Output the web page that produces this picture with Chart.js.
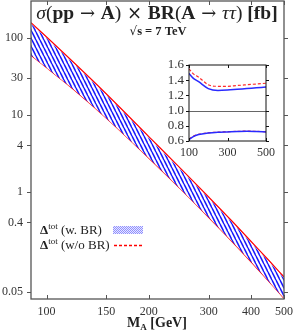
<!DOCTYPE html>
<html>
<head>
<meta charset="utf-8">
<style>
  body { margin: 0; background: #fff; }
  #wrap { position: relative; width: 295px; height: 332px; }
  #main { position: absolute; left: 0; top: 0; }
  #inset { position: absolute; left: 150px; top: 55px; }
</style>
</head>
<body>
<div id="wrap">
  <canvas id="main" width="295" height="332"></canvas>
  <canvas id="inset" width="130" height="105"></canvas>
</div>
<script src="https://cdn.jsdelivr.net/npm/chart.js"></script>
<script>
  // main band: sigma x BR [fb] vs M_A [GeV]
  var masses = [90, 100, 120, 150, 200, 250, 300, 350, 400, 450, 500];
  var central = [99, 66, 32.4, 13.1, 3.88, 1.47, 0.647, 0.318, 0.169, 0.096, 0.0575];
  var upperBR = [150.5, 98.3, 46.3, 17.9, 5.0, 1.86, 0.822, 0.407, 0.218, 0.125, 0.0753];
  var upperNoBR = [156.4, 102.3, 48.0, 18.6, 5.2, 1.94, 0.854, 0.423, 0.226, 0.130, 0.0782];
  var lowerBand = [59.4, 40.9, 21.4, 9.04, 2.74, 1.05, 0.466, 0.231, 0.123, 0.0696, 0.0414];
  var xTicks = [100, 150, 200, 300, 400, 500];
  var yTicks = [100, 30, 10, 4, 1, 0.4, 0.05];

  // inset: band edges relative to central value
  var insetMasses = [100, 120, 150, 200, 250, 300, 350, 400, 450, 500];
  var ratioUpBR = [1.49, 1.43, 1.38, 1.29, 1.265, 1.27, 1.28, 1.29, 1.30, 1.31];
  var ratioUpNoBR = [1.55, 1.49, 1.44, 1.34, 1.32, 1.32, 1.33, 1.34, 1.35, 1.36];
  var ratioLowBR = [0.62, 0.655, 0.685, 0.705, 0.715, 0.72, 0.725, 0.728, 0.725, 0.72];
  var ratioLowNoBR = [0.625, 0.66, 0.688, 0.708, 0.717, 0.722, 0.727, 0.73, 0.727, 0.722];
  var insetXTicks = [100, 300, 500];
  var insetYTicks = [0.6, 0.8, 1.0, 1.2, 1.4, 1.6];

  Chart.defaults.font.family = '"Liberation Serif", serif';
  Chart.defaults.color = '#333';

  function pts(xs, ys) {
    return xs.map(function (x, i) { return { x: x, y: ys[i] }; });
  }

  // no automatic label padding, the plot box is fixed by layout.padding
  function noPad(s) {
    s.paddingTop = 0; s.paddingBottom = 0; s.paddingLeft = 0; s.paddingRight = 0;
  }

  var mainCtx = document.getElementById('main').getContext('2d');

  function makeHatch() {
    var c = document.createElement('canvas');
    c.width = 4; c.height = 8;
    var g = c.getContext('2d');
    g.fillStyle = '#ffffff';
    g.fillRect(0, 0, 4, 8);
    g.strokeStyle = '#1a1aff';
    g.lineWidth = 1.5;
    [-4, 0, 4].forEach(function (o) {
      g.beginPath(); g.moveTo(o, 0); g.lineTo(o + 4, 8); g.stroke();
    });
    return mainCtx.createPattern(c, 'repeat');
  }

  function makeDots() {
    var c = document.createElement('canvas');
    c.width = 2; c.height = 2;
    var g = c.getContext('2d');
    g.fillStyle = '#e8e8ff';
    g.fillRect(0, 0, 2, 2);
    g.fillStyle = '#9090ff';
    g.fillRect(0, 0, 1, 1);
    g.fillRect(1, 1, 1, 1);
    return mainCtx.createPattern(c, 'repeat');
  }

  // draws a list of [text, font, dy] pieces one after another
  function drawRich(ctx, parts, x, y, align) {
    var w = 0;
    parts.forEach(function (p) { ctx.font = p[1]; w += ctx.measureText(p[0]).width; });
    var cx = align === 'center' ? x - w / 2 : x;
    ctx.textAlign = 'left';
    ctx.textBaseline = 'alphabetic';
    parts.forEach(function (p) {
      ctx.font = p[1];
      ctx.fillText(p[0], cx, y + (p[2] || 0));
      cx += ctx.measureText(p[0]).width;
    });
  }

  var F = '"Liberation Serif", serif';
  var D = '"DejaVu Serif", serif';

  var mainDeco = {
    id: 'mainDeco',
    afterDraw: function (chart) {
      var ctx = chart.ctx, a = chart.chartArea, xs = chart.scales.x, ys = chart.scales.y;
      ctx.save();
      ctx.strokeStyle = '#555';
      ctx.lineWidth = 1.3;
      ctx.strokeRect(a.left, a.top, a.right - a.left, a.bottom - a.top);
      ctx.lineWidth = 1;
      ctx.beginPath();
      yTicks.forEach(function (v) {
        var p = Math.round(ys.getPixelForValue(v)) + 0.5;
        ctx.moveTo(a.left - 4, p); ctx.lineTo(a.left, p);
        ctx.moveTo(a.right, p); ctx.lineTo(a.right + 4, p);
      });
      xTicks.forEach(function (v) {
        var p = Math.round(xs.getPixelForValue(v)) + 0.5;
        ctx.moveTo(p, a.bottom); ctx.lineTo(p, a.bottom - 4);
        ctx.moveTo(p, a.top); ctx.lineTo(p, a.top + 4);
      });
      ctx.stroke();

      ctx.fillStyle = '#222';
      var n = '19.5px ' + F, b = 'bold 19.5px ' + F, it = 'italic 19.5px ' + F, ar = '18px ' + D;
      drawRich(ctx, [['σ', it], ['(', n], ['pp', b], [' → ', ar], ['A', b], [')', n], [' × ', ar],
        ['BR', b], ['(', n], ['A', b], [' → ', ar], ['ττ', it], [')', n], [' [', b], ['fb', b], [']', b]],
        157, 19, 'center');
      drawRich(ctx, [['√', '12px ' + D], ['s = 7 TeV', 'bold 12.5px ' + F]], 158, 35, 'center');

      // legend
      var ln = '13px ' + F, lb = 'bold 13px ' + F, ls = '9px ' + F;
      drawRich(ctx, [['Δ', lb], ['tot', ls, -5], [' (w. BR)', ln]], 40, 234);
      drawRich(ctx, [['Δ', lb], ['tot', ls, -5], [' (w/o BR)', ln]], 40, 249);
      ctx.fillStyle = makeDots();
      ctx.fillRect(113, 226, 30, 8);
      ctx.strokeStyle = '#ff0000';
      ctx.lineWidth = 1.3;
      ctx.setLineDash([3, 2]);
      ctx.beginPath(); ctx.moveTo(114, 245.5); ctx.lineTo(143, 245.5); ctx.stroke();
      ctx.setLineDash([]);

      // x axis title
      ctx.fillStyle = '#222';
      drawRich(ctx, [['M', 'bold 14px ' + F], ['A', 'bold 9px ' + F, 3], [' [GeV]', 'bold 14px ' + F]],
        157, 327, 'center');
      ctx.restore();
    }
  };

  var hatch = makeHatch();

  new Chart(mainCtx, {
    type: 'line',
    data: {
      datasets: [
        { data: pts(masses, upperBR), borderWidth: 0, pointRadius: 0, fill: 1, backgroundColor: hatch, cubicInterpolationMode: 'monotone' },
        { data: pts(masses, lowerBand), borderColor: '#ff0000', borderWidth: 1.2, pointRadius: 0, fill: false, cubicInterpolationMode: 'monotone' },
        { data: pts(masses, upperNoBR), borderColor: '#ff0000', borderWidth: 1.2, pointRadius: 0, fill: false, cubicInterpolationMode: 'monotone' },
        { data: pts(masses, central), borderColor: '#333', borderWidth: 0.8, pointRadius: 0, fill: false, cubicInterpolationMode: 'monotone' }
      ]
    },
    options: {
      responsive: false,
      animation: false,
      events: [],
      layout: { autoPadding: false, padding: { top: 1, right: 11, left: 0, bottom: 0 } },
      plugins: { legend: { display: false }, tooltip: { enabled: false } },
      scales: {
        x: {
          type: 'logarithmic', min: 90, max: 500,
          grid: { display: false, drawTicks: false }, border: { display: false },
          afterBuildTicks: function (s) { s.ticks = xTicks.map(function (v) { return { value: v }; }); },
          afterFit: function (s) { s.height = 33; noPad(s); },
          ticks: { autoSkip: false, maxRotation: 0, padding: 6, font: { size: 12 }, color: '#333',
            callback: function (v) { return String(v); } }
        },
        y: {
          type: 'logarithmic', min: 0.0405, max: 300,
          grid: { display: false, drawTicks: false }, border: { display: false },
          afterBuildTicks: function (s) { s.ticks = yTicks.map(function (v) { return { value: v }; }); },
          afterFit: function (s) { s.width = 31; noPad(s); },
          ticks: { autoSkip: false, padding: 8, font: { size: 12 }, color: '#333',
            callback: function (v) { return String(v); } }
        }
      }
    },
    plugins: [mainDeco]
  });

  var insetDeco = {
    id: 'insetDeco',
    afterDraw: function (chart) {
      var ctx = chart.ctx, a = chart.chartArea, xs = chart.scales.x, ys = chart.scales.y;
      ctx.save();
      ctx.strokeStyle = '#666';
      ctx.lineWidth = 1;
      var p1 = Math.round(ys.getPixelForValue(1.0)) + 0.5;
      ctx.beginPath(); ctx.moveTo(a.left, p1); ctx.lineTo(a.right, p1); ctx.stroke();
      ctx.strokeStyle = '#111';
      ctx.strokeRect(a.left, a.top, a.right - a.left, a.bottom - a.top);
      ctx.beginPath();
      insetYTicks.forEach(function (v) {
        var p = Math.round(ys.getPixelForValue(v)) + 0.5;
        ctx.moveTo(a.left - 3, p); ctx.lineTo(a.left, p);
        ctx.moveTo(a.right, p); ctx.lineTo(a.right + 3, p);
      });
      insetXTicks.forEach(function (v) {
        var p = Math.round(xs.getPixelForValue(v)) + 0.5;
        ctx.moveTo(p, a.bottom); ctx.lineTo(p, a.bottom - 3);
        ctx.moveTo(p, a.top); ctx.lineTo(p, a.top + 3);
      });
      ctx.stroke();
      ctx.restore();
    }
  };

  new Chart(document.getElementById('inset'), {
    type: 'line',
    data: {
      datasets: [
        { data: pts(insetMasses, ratioUpBR), borderColor: '#2a2aff', borderWidth: 1.5, pointRadius: 0, cubicInterpolationMode: 'monotone' },
        { data: pts(insetMasses, ratioLowBR), borderColor: '#2a2aff', borderWidth: 1.5, pointRadius: 0, cubicInterpolationMode: 'monotone' },
        { data: pts(insetMasses, ratioUpNoBR), borderColor: '#ff2a2a', borderWidth: 1.2, borderDash: [3, 2], pointRadius: 0, cubicInterpolationMode: 'monotone' },
        { data: pts(insetMasses, ratioLowNoBR), borderColor: '#ff2a2a', borderWidth: 1.2, borderDash: [3, 2], pointRadius: 0, cubicInterpolationMode: 'monotone' }
      ]
    },
    options: {
      responsive: false,
      animation: false,
      events: [],
      layout: { autoPadding: false, padding: { top: 10, right: 14, left: 0, bottom: 0 } },
      plugins: { legend: { display: false }, tooltip: { enabled: false } },
      scales: {
        x: {
          type: 'linear', min: 100, max: 500,
          grid: { display: false, drawTicks: false }, border: { display: false },
          afterBuildTicks: function (s) { s.ticks = insetXTicks.map(function (v) { return { value: v }; }); },
          afterFit: function (s) { s.height = 19; noPad(s); },
          ticks: { autoSkip: false, maxRotation: 0, padding: 5, font: { size: 12 }, color: '#333' }
        },
        y: {
          min: 0.6, max: 1.6,
          grid: { display: false, drawTicks: false }, border: { display: false },
          afterBuildTicks: function (s) { s.ticks = insetYTicks.map(function (v) { return { value: v }; }); },
          afterFit: function (s) { s.width = 39; noPad(s); },
          ticks: { autoSkip: false, padding: 5, font: { size: 13 }, color: '#333',
            callback: function (v) { return v.toFixed(1); } }
        }
      }
    },
    plugins: [insetDeco]
  });
</script>
</body>
</html>
